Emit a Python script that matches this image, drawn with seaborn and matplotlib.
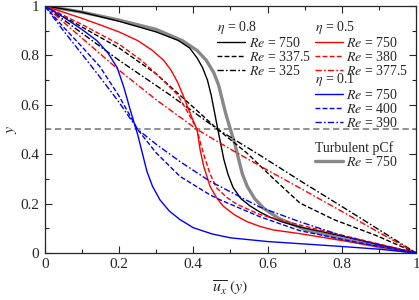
import matplotlib
matplotlib.use('Agg')
import matplotlib.pyplot as plt
from matplotlib.lines import Line2D
from matplotlib.legend import Legend
from matplotlib.ticker import MultipleLocator
import seaborn as sns

# eta = 0.8
ux_08_750 = [0, 0.05, 0.1, 0.2, 0.3, 0.36, 0.39, 0.41, 0.425, 0.438, 0.448, 0.457, 0.466, 0.474,
             0.482, 0.493, 0.507, 0.528, 0.553, 0.58, 0.606, 0.64, 0.687, 0.75, 0.8, 0.9, 1]
y_08_750 = [1, 0.988, 0.975, 0.938, 0.895, 0.86, 0.83, 0.79, 0.75, 0.70, 0.64, 0.57, 0.5, 0.44,
            0.38, 0.32, 0.265, 0.22, 0.19, 0.165, 0.145, 0.125, 0.105, 0.085, 0.068, 0.034, 0]
ux_08_3375 = [0, 0.1, 0.2, 0.3, 0.4, 0.466, 0.544, 0.615, 0.687, 0.78, 0.89, 1]
y_08_3375 = [1, 0.915, 0.83, 0.725, 0.59, 0.5, 0.405, 0.302, 0.202, 0.134, 0.072, 0]
ux_08_325 = [0, 0.1, 0.2, 0.337, 0.466, 0.58, 0.687, 0.8, 0.9, 1]
y_08_325 = [1, 0.89, 0.78, 0.64, 0.5, 0.395, 0.293, 0.188, 0.094, 0]

# eta = 0.5
ux_05_750 = [0, 0.05, 0.1, 0.15, 0.2, 0.25, 0.29, 0.32, 0.34, 0.358, 0.372, 0.385, 0.397, 0.41,
             0.418, 0.428, 0.445, 0.462, 0.48, 0.51, 0.544, 0.58, 0.615, 0.687, 0.8, 0.9, 1]
y_05_750 = [1, 0.975, 0.95, 0.923, 0.895, 0.86, 0.82, 0.78, 0.74, 0.69, 0.64, 0.59, 0.545, 0.5,
            0.42, 0.35, 0.27, 0.225, 0.19, 0.155, 0.127, 0.107, 0.093, 0.078, 0.05, 0.025, 0]
ux_05_380 = [0, 0.1, 0.2, 0.26, 0.318, 0.358, 0.383, 0.41, 0.42, 0.431, 0.445, 0.463, 0.49,
             0.517, 0.58, 0.687, 0.8, 0.9, 1]
y_05_380 = [1, 0.925, 0.845, 0.78, 0.70, 0.64, 0.575, 0.5, 0.44, 0.385, 0.32, 0.263, 0.225,
            0.197, 0.155, 0.113, 0.072, 0.036, 0]
ux_05_3775 = [0, 0.1, 0.2, 0.3, 0.41, 0.5, 0.6, 0.687, 0.8, 0.9, 1]
y_05_3775 = [1, 0.87, 0.74, 0.62, 0.5, 0.42, 0.335, 0.263, 0.168, 0.083, 0]

# eta = 0.1
ux_01_750 = [0, 0.05, 0.1, 0.14, 0.17, 0.195, 0.213, 0.228, 0.24, 0.25, 0.26, 0.275, 0.29, 0.31,
             0.335, 0.364, 0.4, 0.45, 0.5, 0.6, 0.7, 0.8, 0.9, 1]
y_01_750 = [1, 0.955, 0.905, 0.86, 0.81, 0.75, 0.67, 0.59, 0.53, 0.48, 0.42, 0.33, 0.27, 0.215,
            0.17, 0.135, 0.102, 0.077, 0.061, 0.046, 0.036, 0.026, 0.015, 0]
ux_01_400 = [0, 0.05, 0.1, 0.148, 0.2, 0.25, 0.3, 0.364, 0.445, 0.472, 0.58, 0.687, 0.8, 0.9, 1]
y_01_400 = [1, 0.915, 0.835, 0.755, 0.635, 0.5, 0.405, 0.31, 0.235, 0.215, 0.146, 0.09, 0.055,
            0.026, 0]
ux_01_390 = [0, 0.05, 0.1, 0.148, 0.2, 0.25, 0.3, 0.364, 0.445, 0.58, 0.687, 0.8, 0.9, 1]
y_01_390 = [1, 0.9, 0.805, 0.713, 0.61, 0.5, 0.44, 0.37, 0.29, 0.185, 0.126, 0.07, 0.032, 0]

# turbulent plane Couette flow
ux_pcf = [0, 0.05, 0.1, 0.2, 0.3, 0.37, 0.41, 0.435, 0.455, 0.468, 0.478, 0.488, 0.5, 0.512,
          0.522, 0.532, 0.545, 0.565, 0.59, 0.63, 0.7, 0.8, 0.9, 0.95, 1]
y_pcf = [1, 0.988, 0.975, 0.943, 0.905, 0.86, 0.82, 0.78, 0.73, 0.68, 0.62, 0.56, 0.5, 0.44,
         0.38, 0.32, 0.27, 0.22, 0.18, 0.14, 0.095, 0.057, 0.025, 0.012, 0]

sns.set_style('ticks')
plt.rcParams['font.family'] = ['Liberation Serif', 'DejaVu Serif']
plt.rcParams['mathtext.fontset'] = 'stix'
plt.rcParams['font.size'] = 10

BLACK, RED, BLUE, GREY = 'black', '#ff0000', '#0000ff', '#888888'
SOLID = '-'
DASH = (0, (3.5, 1.6))
DASHDOT = (0, (4.5, 1.6, 1.2, 1.6))
lw = 1.0

fig, ax = plt.subplots(figsize=(4.19, 3.0), dpi=100)
fig.subplots_adjust(left=0.107, right=0.993, top=0.98, bottom=0.157)

ax.axhline(0.5, color=GREY, lw=1.3, linestyle=(0, (3.5, 2)), zorder=1)

curves = [
    (ux_pcf, y_pcf, GREY, SOLID, 2.4),
    (ux_08_750, y_08_750, BLACK, SOLID, lw),
    (ux_08_3375, y_08_3375, BLACK, DASH, lw),
    (ux_08_325, y_08_325, BLACK, DASHDOT, lw),
    (ux_05_750, y_05_750, RED, SOLID, lw),
    (ux_05_380, y_05_380, RED, DASH, lw),
    (ux_05_3775, y_05_3775, RED, DASHDOT, lw),
    (ux_01_750, y_01_750, BLUE, SOLID, lw),
    (ux_01_400, y_01_400, BLUE, DASH, lw),
    (ux_01_390, y_01_390, BLUE, DASHDOT, lw),
]
for xs, ys, c, ls, w in curves:
    sns.lineplot(x=xs, y=ys, ax=ax, color=c, linestyle=ls, lw=w, sort=False,
                 estimator=None, legend=False)

ax.set_xlim(0, 1)
ax.set_ylim(0, 1)
ax.xaxis.set_major_locator(MultipleLocator(0.2))
ax.xaxis.set_minor_locator(MultipleLocator(0.1))
ax.yaxis.set_major_locator(MultipleLocator(0.2))
ax.yaxis.set_minor_locator(MultipleLocator(0.1))
ax.xaxis.set_major_formatter(lambda v, p: f'{v:g}')
ax.yaxis.set_major_formatter(lambda v, p: f'{v:g}')
ax.tick_params(which='both', direction='in', top=True, right=True, labelsize=11, pad=4)
ax.tick_params(which='major', length=5, width=0.8)
ax.tick_params(which='minor', length=3, width=0.8)
for s in ax.spines.values():
    s.set_linewidth(0.9)

ax.set_xlabel(r'$\overline{u_x}\ (y)$', fontsize=11.5, labelpad=5)
ax.set_ylabel(r'$y$', fontsize=11.5, labelpad=1)


def group(colour, styles, labels, title, anchor, w=lw):
    handles = [Line2D([], [], color=colour, linestyle=s, lw=w) for s in styles]
    leg = Legend(ax, handles, labels, title=title, loc='upper left', bbox_to_anchor=anchor,
                 frameon=False, borderpad=0, borderaxespad=0, handlelength=2.0,
                 handletextpad=0.25, labelspacing=0.0, alignment='left',
                 title_fontsize=10, fontsize=10)
    leg._legend_box.sep = 0
    ax.add_artist(leg)


group(BLACK, [SOLID, DASH, DASHDOT],
      [r'$Re$ = 750', r'$Re$ = 337.5', r'$Re$ = 325'], r'$\eta$ = 0.8', (0.465, 0.947))
group(RED, [SOLID, DASH, DASHDOT],
      [r'$Re$ = 750', r'$Re$ = 380', r'$Re$ = 377.5'], r'$\eta$ = 0.5', (0.728, 0.947))
group(BLUE, [SOLID, DASH, DASHDOT],
      [r'$Re$ = 750', r'$Re$ = 400', r'$Re$ = 390'], r'$\eta$ = 0.1', (0.728, 0.738))
group(GREY, [SOLID], [r'$Re$ = 750'], 'Turbulent pCf', (0.728, 0.453), w=2.4)

fig.savefig('out.png', dpi=100)
